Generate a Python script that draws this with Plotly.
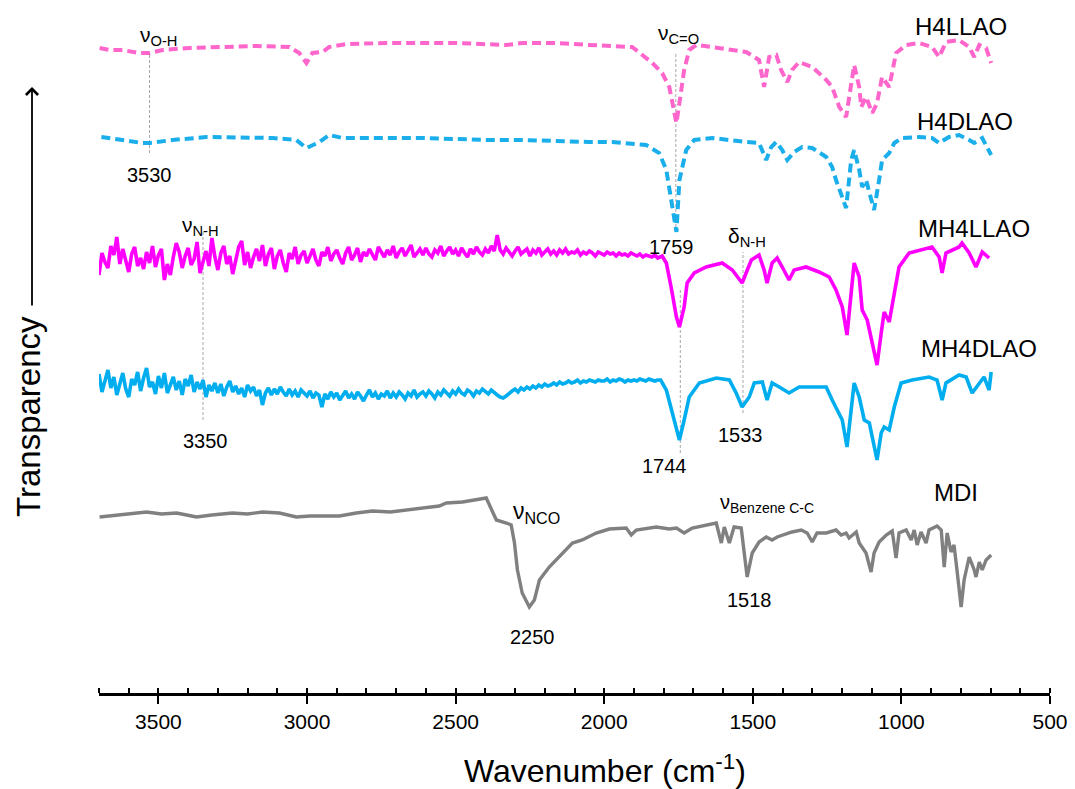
import plotly.graph_objects as go

# ---------------- data (wavenumber in cm-1, transmittance in arbitrary offset units) ----------------
h4llao_wn = [3698, 3665, 3621, 3564, 3530, 3486, 3396, 3285, 3170, 3059, 3026, 3002, 2982, 2948, 2925,
             2868, 2723, 2497, 2329, 2276, 2161, 2050, 1906, 1838, 1805, 1781, 1764, 1757, 1747, 1731,
             1714, 1690, 1637, 1522, 1479, 1462, 1445, 1421, 1405, 1384, 1368, 1344, 1300, 1253, 1233,
             1209, 1186, 1169, 1159, 1142, 1135, 1119, 1098, 1082, 1065, 1041, 1018, 984, 940, 897,
             873, 850, 806, 772, 755, 738, 715, 698]
h4llao_t = [645, 643, 643, 640, 640, 643, 645, 646, 647, 646, 640, 630, 640, 641, 646,
            649, 650, 650, 648, 650, 650, 648, 646, 630, 620, 606, 583, 570, 590, 623,
            643, 648, 646, 641, 633, 606, 636, 638, 623, 611, 623, 631, 626, 613, 606,
            586, 576, 606, 628, 606, 586, 596, 580, 590, 616, 606, 640, 648, 650, 646,
            636, 651, 653, 646, 636, 648, 645, 630]

h4dlao_wn = [3692, 3621, 3554, 3530, 3453, 3338, 3227, 3116, 3036, 3002, 2958, 2925, 2881, 2780, 2612,
             2387, 2276, 2050, 1973, 1859, 1815, 1791, 1775, 1764, 1757, 1747, 1724, 1697, 1637, 1522,
             1479, 1455, 1438, 1421, 1401, 1384, 1361, 1334, 1300, 1253, 1233, 1220, 1199, 1186, 1169,
             1159, 1142, 1132, 1119, 1102, 1092, 1075, 1065, 1041, 1024, 998, 940, 897, 873, 840,
             806, 772, 755, 728, 698]
h4dlao_t = [556, 553, 550, 550, 553, 556, 556, 555, 553, 545, 551, 558, 555, 555, 555,
            553, 553, 551, 551, 548, 540, 523, 496, 476, 461, 513, 543, 553, 555, 551,
            550, 533, 546, 551, 543, 533, 541, 546, 545, 536, 526, 513, 496, 485, 533,
            543, 523, 506, 513, 496, 483, 513, 533, 540, 550, 555, 556, 555, 550, 556,
            558, 553, 550, 555, 538]

# noisy high-wavenumber region shared sampling of the two MH spectra
noise_wn = [3700, 3690, 3680, 3670, 3660, 3650, 3640, 3630, 3620, 3610,
            3600, 3590, 3580, 3570, 3560, 3550, 3540, 3530, 3520, 3510,
            3500, 3490, 3480, 3470, 3460, 3450, 3440, 3430, 3420, 3410,
            3400, 3390, 3380, 3370, 3360, 3350, 3340, 3330, 3320, 3310,
            3300, 3290, 3280, 3270, 3260, 3250, 3240, 3230, 3220, 3210,
            3200, 3190, 3180, 3170, 3160, 3150, 3140, 3130, 3120, 3110,
            3100, 3090, 3080, 3070, 3060, 3050, 3040, 3030, 3020, 3010,
            3000, 2990, 2980, 2970, 2960, 2950, 2940, 2930, 2920, 2910,
            2900, 2890, 2880, 2870, 2860, 2850, 2840, 2830, 2820, 2810,
            2800, 2790, 2780, 2770, 2760, 2750, 2740, 2730, 2720, 2710,
            2700, 2690, 2680, 2670, 2660, 2650, 2640, 2630, 2620, 2610,
            2600, 2590, 2580, 2570, 2560, 2550, 2540, 2530, 2520, 2510,
            2500, 2490, 2480, 2470, 2460, 2450, 2440, 2430, 2420, 2410,
            2400, 2390, 2380, 2370, 2360, 2350, 2340, 2330, 2320, 2310,
            2300, 2290, 2280, 2270, 2260, 2250, 2240, 2230, 2220, 2210,
            2200, 2190, 2180, 2170, 2160, 2150, 2140, 2130, 2120, 2110,
            2100, 2090, 2080, 2070, 2060, 2050, 2040, 2030, 2020, 2010,
            2000, 1990, 1980, 1970, 1960, 1950, 1940, 1930, 1920, 1910,
            1900, 1890, 1880, 1870, 1860, 1850, 1840, 1830, 1820]

mh4llao_noise_t = [418, 440, 431, 425, 447, 438, 456, 429, 444, 433,
                   421, 439, 446, 427, 435, 424, 441, 430, 447, 426,
                   438, 444, 413, 429, 418, 436, 450, 441, 425, 437,
                   445, 428, 434, 451, 420, 431, 442, 427, 455, 436,
                   423, 440, 447, 429, 437, 419, 433, 446, 452, 428,
                   441, 425, 436, 444, 432, 448, 427, 439, 445, 424,
                   437, 443, 430, 421, 440, 434, 446, 429, 438, 442,
                   430, 436, 444, 433, 427, 441, 437, 446, 432, 439,
                   443, 435, 429, 440, 446, 433, 438, 445, 431, 441,
                   437, 444, 439, 433, 446, 440, 436, 443, 438, 447,
                   435, 441, 445, 437, 442, 448, 436, 440, 444, 438,
                   445, 439, 436, 443, 440, 447, 437, 442, 446, 439,
                   443, 437, 445, 440, 436, 444, 439, 446, 441, 438,
                   444, 440, 447, 442, 458, 443, 439, 445, 441, 437,
                   442, 446, 439, 441, 444, 437, 443, 440, 445, 438,
                   441, 444, 439, 442, 438, 443, 440, 444, 439, 441,
                   440, 443, 438, 441, 439, 442, 440, 437, 441, 439,
                   438, 441, 439, 440, 437, 440, 438, 439, 437, 440,
                   438, 437, 439, 436, 438, 437, 436, 438, 435]
mh4llao_band_wn = [1805, 1791, 1775, 1757, 1747, 1731, 1721, 1697, 1657, 1603, 1569,
                   1536, 1505, 1479, 1462, 1452, 1435, 1418, 1401, 1378, 1361,
                   1321, 1277, 1243, 1220, 1199, 1183, 1169, 1159, 1142, 1132,
                   1115, 1098, 1082, 1068, 1058, 1041, 1024, 1008, 974, 930,
                   897, 873, 863, 850, 806, 796, 772, 749, 728, 705]
mh4llao_band_t = [437, 430, 406, 376, 366, 386, 410, 420, 426, 430, 423,
                  410, 433, 438, 423, 410, 430, 435, 426, 413, 423,
                  426, 421, 416, 403, 386, 358, 406, 430, 416, 383,
                  373, 350, 328, 360, 381, 371, 400, 426, 440, 443,
                  446, 436, 420, 440, 446, 450, 440, 426, 441, 435]

mh4dlao_noise_t = [319, 301, 312, 323, 305, 316, 298, 310, 320, 304,
                   296, 314, 308, 321, 302, 315, 325, 306, 311, 299,
                   317, 305, 320, 300, 309, 316, 303, 312, 298, 314,
                   307, 318, 301, 311, 304, 313, 296, 308, 302, 310,
                   300, 309, 297, 306, 312, 301, 307, 299, 305, 296,
                   308, 302, 306, 297, 303, 288, 300, 305, 298, 304,
                   299, 306, 301, 297, 304, 298, 302, 296, 303, 300,
                   297, 302, 295, 300, 298, 286, 299, 294, 301, 296,
                   300, 293, 298, 302, 295, 299, 294, 301, 297, 292,
                   298, 303, 296, 300, 294, 299, 297, 302, 295, 300,
                   296, 301, 298, 294, 300, 297, 303, 296, 299, 301,
                   297, 302, 299, 295, 301, 298, 303, 300, 297, 302,
                   299, 304, 300, 298, 303, 301, 297, 302, 300, 304,
                   301, 299, 303, 300, 298, 296, 295, 297, 300, 302,
                   304, 301, 305, 303, 306, 304, 307, 305, 308, 306,
                   309, 307, 308, 310, 308, 311, 309, 310, 312, 310,
                   311, 313, 310, 312, 311, 313, 312, 311, 313, 312,
                   312, 314, 311, 313, 312, 314, 313, 311, 313, 312,
                   313, 312, 314, 313, 312, 314, 313, 312, 313]
mh4dlao_band_wn = [1810, 1791, 1771, 1747, 1731, 1714, 1680, 1623, 1579, 1556,
                   1536, 1512, 1495, 1468, 1452, 1435, 1411, 1378, 1344, 1300,
                   1253, 1233, 1199, 1183, 1169, 1159, 1142, 1125, 1108, 1092,
                   1082, 1068, 1058, 1041, 1024, 1001, 964, 907, 880, 863,
                   850, 806, 782, 762, 738, 722, 705, 698]
mh4dlao_band_t = [313, 303, 280, 253, 273, 296, 310, 315, 313, 300,
                  286, 296, 310, 311, 293, 310, 306, 300, 306, 306,
                  306, 293, 273, 246, 286, 310, 296, 273, 270, 246,
                  233, 260, 266, 263, 286, 310, 313, 316, 313, 293,
                  310, 318, 316, 300, 310, 316, 303, 321]

mdi_wn = [3698, 3640, 3590, 3540, 3490, 3439, 3405, 3372, 3320, 3251, 3200, 3150, 3093, 3060, 3036,
          2990, 2948, 2891, 2834, 2780, 2720, 2666, 2612, 2555,
          2531, 2477, 2397, 2380, 2363, 2329, 2313, 2302, 2292, 2276, 2252, 2235, 2218, 2185, 2141,
          2107, 2074, 2027, 1983, 1926, 1909, 1892, 1825, 1781, 1757, 1731, 1704, 1637, 1623, 1606,
          1596, 1579, 1563, 1539, 1519, 1502, 1479, 1455, 1435, 1418, 1401, 1368, 1337, 1317, 1300,
          1284, 1253, 1220, 1203, 1186, 1176, 1152, 1142, 1119, 1102, 1092, 1075, 1051, 1031, 1018,
          1008, 984, 967, 957, 947, 934, 917, 907, 880, 866, 856, 846, 833, 823, 813,
          799, 789, 772, 755, 749, 738, 728, 715, 698]
mdi_t = [176, 178, 180, 181, 179, 180, 178, 176, 178, 180, 179, 181, 180, 178, 176,
         177, 177, 177, 180, 182, 181, 183, 185, 187,
         190, 191, 195, 183, 173, 170, 168, 150, 123, 100, 86, 93, 113, 126, 140,
         150, 153, 160, 164, 165, 158, 163, 166, 164, 165, 160, 165, 169, 170, 150,
         166, 150, 166, 165, 116, 140, 151, 156, 153, 156, 158, 161, 163, 160, 151,
         160, 160, 163, 158, 160, 155, 161, 150, 140, 121, 140, 151, 158, 162, 135,
         160, 163, 153, 163, 148, 161, 150, 163, 167, 163, 126, 160, 141, 148, 123,
         86, 113, 136, 123, 116, 131, 123, 133, 138]

series_names = ["H4LLAO", "H4DLAO", "MH4LLAO", "MH4DLAO", "MDI"]

# band assignments: (text, wavenumber, level, anchor, font size)
band_labels = [
    ("ν<sub>O-H</sub>", 3570, 657, "left", 21),
    ("3530", 3530, 518, "center", 20),
    ("ν<sub>C=O</sub>", 1825, 659, "left", 21),
    ("1759", 1774, 446, "center", 20),
    ("ν<sub>N-H</sub>", 3429, 467, "left", 21),
    ("3350", 3341, 252, "center", 20),
    ("δ<sub>N-H</sub>", 1589, 456, "left", 21),
    ("1744", 1797, 227, "center", 20),
    ("1533", 1542, 258, "center", 20),
    ("ν<sub>NCO</sub>", 2313, 181, "left", 23),
    ("2250", 2242, 56, "center", 20),
    ("ν<sub>Benzene C-C</sub>", 1616, 190, "left", 20),
    ("1518", 1512, 93, "center", 20),
]
# reference lines: (wavenumber, top level, bottom level)
band_lines = [(3530, 640, 540), (1759, 641, 461), (3350, 461, 273), (1744, 403, 240), (1533, 441, 280)]
# series name positions (wavenumber, level)
name_pos = [(798, 667), (785, 572), (755, 465), (738, 345), (815, 201)]

# ---------------- figure ----------------
FONT = "Liberation Sans, Arial, sans-serif"
styles = [
    ("#FF66CC", "9px,5px", 4),
    ("#1AAEEB", "9px,5px", 4),
    ("#FF00FF", "solid", 3.6),
    ("#00AEEF", "solid", 3.6),
    ("#808080", "solid", 3.4),
]
data = [(h4llao_wn, h4llao_t),
        (h4dlao_wn, h4dlao_t),
        (noise_wn + mh4llao_band_wn, mh4llao_noise_t + mh4llao_band_t),
        (noise_wn + mh4dlao_band_wn, mh4dlao_noise_t + mh4dlao_band_t),
        (mdi_wn, mdi_t)]

fig = go.Figure()
for (wn, t), name, (col, dash, w) in zip(data, series_names, styles):
    fig.add_trace(go.Scatter(x=wn, y=t, mode="lines", name=name,
                             line=dict(color=col, dash=dash, width=w)))

for wn, top, bot in band_lines:
    fig.add_shape(type="line", x0=wn, x1=wn, y0=bot, y1=top, xref="x", yref="y",
                  line=dict(color="#A6A6A6", width=1, dash="3px,2px"), layer="below")

annotations = []
for text, wn, lvl, anchor, size in band_labels:
    annotations.append(dict(x=wn, y=lvl, xref="x", yref="y", text=text, showarrow=False,
                            xanchor=anchor, yanchor="middle",
                            font=dict(family=FONT, size=size, color="black")))
for name, (wn, lvl) in zip(series_names, name_pos):
    annotations.append(dict(x=wn, y=lvl, xref="x", yref="y", text=name, showarrow=False,
                            xanchor="center", yanchor="middle",
                            font=dict(family=FONT, size=24, color="black")))

# page body has an 8 px margin: the figure is drawn 8 px right/down of the window corner
OFF = 8
W, H = 1067, 781
L, R, T, B = 91, 25, 2, 96
pw, ph = W - L - R, H - T - B
def px(sx):
    return (sx - OFF - L) / pw
def py(sy):
    return (H - B - (sy - OFF)) / ph

annotations.append(dict(x=px(605), y=py(769), xref="paper", yref="paper",
                        text="Wavenumber (cm<sup>-1</sup>)", showarrow=False,
                        xanchor="center", yanchor="middle",
                        font=dict(family=FONT, size=32, color="black")))
annotations.append(dict(x=px(28), y=py(417), xref="paper", yref="paper",
                        text="Transparency", showarrow=False, textangle=-90,
                        xanchor="center", yanchor="middle",
                        font=dict(family=FONT, size=33, color="black")))
annotations.append(dict(x=px(32), y=py(87), xref="paper", yref="paper", text="",
                        showarrow=True, ax=0, ay=220, arrowhead=4, arrowsize=1.3,
                        arrowwidth=1.8, arrowcolor="black"))

fig.update_layout(
    width=W, height=H,
    margin=dict(l=L, r=R, t=T, b=B),
    plot_bgcolor="white", paper_bgcolor="white",
    showlegend=False,
    font=dict(family=FONT, color="black"),
    xaxis=dict(range=[3700, 500], showline=True, linecolor="black", linewidth=2.5,
               ticks="outside", ticklen=8, tickwidth=2, tickcolor="black",
               tick0=500, dtick=500, tickfont=dict(family=FONT, size=21, color="black"),
               minor=dict(dtick=100, ticks="inside", ticklen=5, tickwidth=1.5, tickcolor="black"),
               showgrid=False, zeroline=False),
    yaxis=dict(range=[0, ph], visible=False, showgrid=False, zeroline=False),
    annotations=annotations,
)

fig.write_html("out.html")
